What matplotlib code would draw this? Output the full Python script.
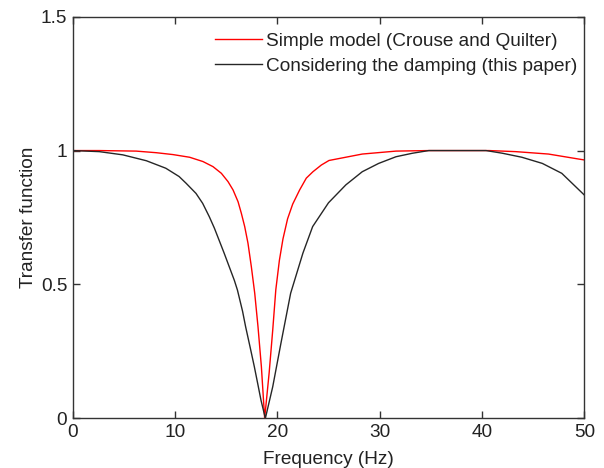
import matplotlib
matplotlib.use("Agg")
import matplotlib.pyplot as plt

# Data
red_f = [0, 2.6, 6.2, 8.17, 9.8, 11.43, 12.73, 13.71, 14.53, 15.18, 15.67, 16.16, 16.48,
         16.81, 17.13, 17.46, 17.79, 18.11, 18.44, 18.76,
         19.2, 19.55, 19.85, 20.2, 20.55, 21.0, 21.5, 22.18, 22.83, 23.48, 24.3, 25.05,
         28.3, 31.6, 34.8, 40.7, 43.3, 46.5, 49.5, 50]
red_v = [1.0, 1.0, 0.998, 0.992, 0.985, 0.975, 0.959, 0.940, 0.915, 0.884, 0.853, 0.809,
         0.766, 0.716, 0.654, 0.566, 0.467, 0.342, 0.193, 0.0,
         0.17, 0.33, 0.48, 0.59, 0.67, 0.745, 0.80, 0.853, 0.897, 0.921, 0.946, 0.963,
         0.987, 0.998, 1.0, 1.0, 0.996, 0.987, 0.968, 0.965]

blk_f = [0, 2.6, 4.9, 7.2, 9.1, 10.4, 11.08, 12.05, 12.7, 13.35, 13.85, 14.3, 14.8, 15.3,
         15.8, 16.1, 16.6, 16.9, 17.36, 17.75, 18.08, 18.4, 18.83,
         19.55, 20.35, 21.3, 22.5, 23.45, 25.0, 26.7, 28.3, 29.9, 31.6, 33.2, 34.8,
         40.4, 42.0, 43.9, 45.9, 47.8, 50]
blk_v = [1.0, 0.996, 0.984, 0.962, 0.934, 0.903, 0.878, 0.84, 0.803, 0.753, 0.71, 0.666,
         0.617, 0.566, 0.515, 0.479, 0.40, 0.342, 0.262, 0.193, 0.13, 0.068, 0.0,
         0.118, 0.28, 0.467, 0.617, 0.716, 0.805, 0.872, 0.921, 0.952, 0.977, 0.99, 1.0,
         1.0, 0.99, 0.975, 0.952, 0.915, 0.834]

x_ticks = [0, 10, 20, 30, 40, 50]
y_ticks = [0, 0.5, 1, 1.5]
y_tick_labels = ["0", "0.5", "1", "1.5"]
labels = ["Simple model (Crouse and Quilter)", "Considering the damping (this paper)"]

plt.rcParams['font.family'] = ['Liberation Sans', 'DejaVu Sans']
FS = 13.7
TXT = '#222222'

fig = plt.figure(figsize=(6.04, 4.68), dpi=100)
ax = fig.add_axes([72.7 / 604, (468 - 418.3) / 468, 511.6 / 604, 401.6 / 468])

ax.plot(red_f, red_v, color='#ff0000', lw=1.0, label=labels[0])
ax.plot(blk_f, blk_v, color='#262626', lw=1.0, label=labels[1])

ax.set_xlim(0, 50)
ax.set_ylim(0, 1.5)
ax.set_xticks(x_ticks)
ax.set_yticks(y_ticks)
ax.set_yticklabels(y_tick_labels)
ax.tick_params(direction='in', length=5, width=1.0, top=True, right=True,
               labelsize=FS, colors='#333333', labelcolor=TXT, pad=4)
for s in ax.spines.values():
    s.set_linewidth(1.0)
    s.set_color('#333333')

ax.set_xlabel("Frequency (Hz)", fontsize=FS, color=TXT, labelpad=7)
ax.set_ylabel("Transfer function", fontsize=FS, color=TXT, labelpad=3)

leg = ax.legend(loc='upper left', bbox_to_anchor=((215 - 72.7) / 511.6, 0.96),
                frameon=False, fontsize=FS, handlelength=2.47, handletextpad=0.2,
                borderpad=0, borderaxespad=0, labelspacing=0.38)
for t in leg.get_texts():
    t.set_color(TXT)

fig.savefig("out.png", dpi=100)
